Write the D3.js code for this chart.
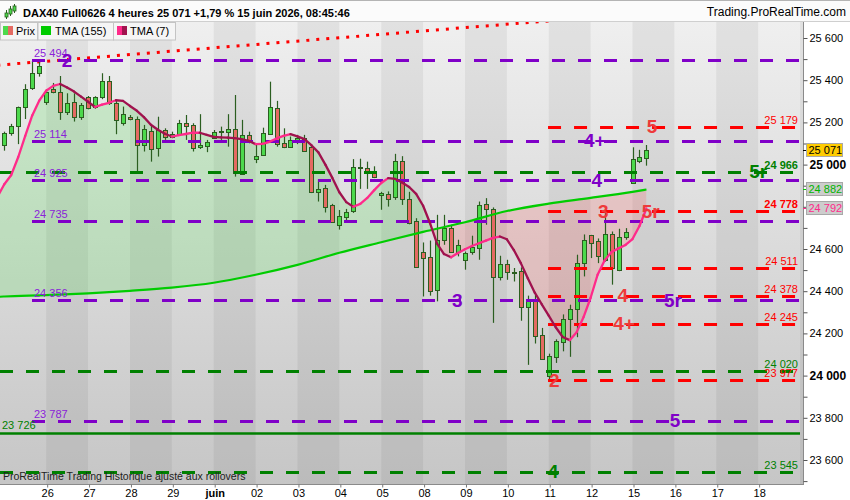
<!DOCTYPE html>
<html><head><meta charset="utf-8">
<script src="https://cdnjs.cloudflare.com/ajax/libs/d3/7.8.5/d3.min.js"></script>
<style>
html,body{margin:0;padding:0;background:#fff;}
svg{display:block;font-family:"Liberation Sans",Arial,sans-serif;}
</style></head><body>
<svg id="chart" width="850" height="500"></svg>
<script>
// ---------------- DATA ----------------
const titleText = "DAX40 Full0626 4 heures 25 071 +1,79 % 15 juin 2026, 08:45:46";
const siteText = "Trading.ProRealTime.com";
const footText = "ProRealTime Trading  Historique ajusté aux rollovers";
const legendLabels = ["Prix", "TMA (155)", "TMA (7)"];

const dayLabels = ["26","27","28","29","juin","02","03","04","05","08","09","10","11","12","15","16","17","18"];
const candlesPerDay = 6;

const opens  = [25093,25149,25185,25272,25362,25433, 25298,25357,25343,25251,25298,25224, 25319,25275,25319,25395,25291,25199,
                25224,25216,25093,25161,25080,25164, 25133,25144,25196,25188,25085,25090, 25125,25156,25156,25168,24955,25141,
                25026,25046,25144,25267,25101,25085, 25109,25128,25085,24869,24888,24809, 24715,24754,24778,24983,24983,24967,
                24855,24860,24846,25016,24836,24732, 24588,24562,24406,24642,24699,24588, 24548,24588,24605,24813,24789,24467,
                24529,24491,24495,24325,24360,24194, 24000,24089,24160,24268,24316,24533, 24666,24638,24549,24671,24502,24656,
                24915,25019,25033];
const highs  = [25156,25193,25275,25381,25492,25488, 25357,25387,25420,25338,25338,25292, 25325,25324,25433,25420,25306,25275,
                25235,25228,25188,25188,25227,25172, 25156,25212,25235,25196,25239,25117, 25164,25180,25239,25330,25212,25156,
                25093,25175,25393,25302,25172,25133, 25141,25141,25093,24930,24904,24814, 24785,24790,25026,25028,25014,24992,
                24871,24873,25051,25040,24871,24746, 24631,24640,24762,24762,24715,24644, 24588,24663,24825,24841,24797,24568,
                24549,24510,24513,24379,24383,24226, 24104,24172,24290,24336,24573,24669, 24667,24650,24781,24683,24696,24699,
                25082,25070,25093];
const lows   = [25066,25137,25097,25216,25354,25417, 25283,25338,25212,25235,25204,25212, 25262,25265,25310,25283,25144,25185,
                25210,24959,25062,25014,25038,25117, 25125,25141,25117,25062,25074,25059, 25122,25117,25085,24943,24951,25101,
                25007,25043,25141,25085,25078,25080, 25097,25062,24865,24825,24773,24726, 24692,24724,24771,24885,24885,24936,
                24786,24801,24833,24809,24717,24510, 24375,24379,24352,24620,24581,24565, 24502,24573,24549,24715,24250,24451,
                24454,24446,24260,24051,24152,24076, 23983,24060,24115,24089,24182,24470, 24557,24533,24540,24431,24495,24644,
                24912,25007,24995];
const closes = [25149,25185,25272,25357,25433,25467, 25346,25343,25251,25293,25227,25283, 25267,25319,25395,25291,25212,25240,
                25216,25093,25168,25074,25164,25133, 25144,25196,25185,25080,25093,25106, 25156,25160,25168,24959,25141,25117,
                25041,25149,25272,25097,25085,25117, 25125,25065,24872,24884,24801,24730, 24755,24775,24988,24988,24967,24940,
                24865,24836,25016,24836,24723,24514, 24557,24399,24644,24700,24585,24618, 24581,24611,24809,24789,24467,24529,
                24492,24489,24325,24356,24189,24081, 24093,24166,24268,24316,24533,24644, 24628,24567,24671,24511,24656,24680,
                25026,25035,25071];

// TMA (7), one value per candle, first value belongs to the candle before index 0
const tma7StartIndex = -1;
const tma7 = [24847,24907,24951,25036,25136,25233,25303,25350,25373,25382,25365,25346,25322,25298,25273,25284,25293,25305,
              25302,25278,25255,25225,25189,25165,25146,25133,25140,25145,25151,25151,25141,25131,25129,25128,25125,25121,
              25113,25097,25098,25108,25124,25136,25144,25134,25121,25092,25058,25000,24937,24869,24822,24800,24814,24842,
              24879,24913,24936,24932,24915,24894,24861,24805,24722,24625,24576,24561,24581,24599,24614,24627,24640,24653,
              24659,24646,24595,24533,24461,24393,24338,24284,24229,24183,24168,24206,24278,24369,24478,24546,24586,24603,
              24619,24647,24709,24792];
// TMA (155) read at candle indices
const tma155Index  = [-1,0,6,12,18,24,30,36,42,48,54,60,66,72,78,84,90,92];
const tma155Values = [24373,24375,24381,24390,24402,24417,24440,24478,24525,24582,24632,24681,24727,24780,24815,24842,24871,24882];

// horizontal levels
const purpleLevels = [25494,25114,24925,24735,24356,23787];
const redLevels    = [25179,24778,24511,24378,24245,23977];
const greenLevels  = [24966,24020,23545];
const supportLevel = 23726;
const boldLevels   = [24966,24778];

// big level annotations
const annoTexts  = ["2","4+","5","4","5r","3","5r","3","4","5r","4+","2","5","4"];
const annoLevels = [25494,25114,25179,24925,24966,24778,24778,24356,24378,24356,24245,23977,23787,23545];
const annoIndex  = [9.0,84.6,92.8,84.9,108.0,85.8,92.6,64.9,88.6,95.8,88.8,78.8,96.1,78.6];

// dotted red trend line (candle index, price)
const trendIndex = [-1, 90];
const trendPrice = [25471, 25713];

// ---------------- CHART ----------------
const P = {left:0, right:803, top:22, bottom:484};
const PURPLE = "#8000c8", RED = "#ff0000", GREEN = "#008000";
const svg = d3.select("#chart");
const defs = svg.append("defs");

const x = d3.scaleLinear().domain([0, 114]).range([4.3, 4.3 + 6.98*114]);
const y = d3.scaleLinear().domain([23600, 25600]).range([460, 38]);
const fmt = d3.formatLocale({decimal:",", thousands:" ", grouping:[3], currency:["",""]}).format(",d");

const g = defs.append("linearGradient").attr("id","bg").attr("x1",0).attr("y1",0).attr("x2",0).attr("y2",1);
g.append("stop").attr("offset","0%").attr("stop-color","#efefef");
g.append("stop").attr("offset","100%").attr("stop-color","#c6c6c6");
defs.append("clipPath").attr("id","plotClip").append("rect")
  .attr("x",P.left).attr("y",P.top).attr("width",P.right-P.left).attr("height",P.bottom-P.top);

svg.append("rect").attr("width",850).attr("height",500).attr("fill","#ffffff");

// plot background
const plot = svg.append("g").attr("clip-path","url(#plotClip)");
plot.append("rect").attr("x",P.left).attr("y",P.top).attr("width",P.right-P.left).attr("height",P.bottom-P.top).attr("fill","url(#bg)");
const nDays = dayLabels.length + 2;
for (let k = 0; k < nDays; k++) {
  if (k % 2 === 1) {
    const x0 = x(k*candlesPerDay), x1 = x((k+1)*candlesPerDay);
    plot.append("rect").attr("x",x0).attr("y",P.top).attr("width",x1-x0).attr("height",P.bottom-P.top)
      .attr("fill","#000").attr("opacity",0.055);
  }
}

// TMA data
const t7 = tma7.map((v,k)=>({i:k+tma7StartIndex, v}));
const t155 = tma155Index.map((d,k)=>({i:d, v:tma155Values[k]}));
const above155 = d3.area().x(d=>x(d.i)).y0(P.top-10).y1(d=>y(d.v)).curve(d3.curveMonotoneX);
const below155 = d3.area().x(d=>x(d.i)).y0(P.bottom+10).y1(d=>y(d.v)).curve(d3.curveMonotoneX);
defs.append("clipPath").attr("id","c155a").append("path").attr("d", above155(t155));
defs.append("clipPath").attr("id","c155b").append("path").attr("d", below155(t155));

plot.append("path").attr("clip-path","url(#c155a)")
  .attr("d", d3.area().x(d=>x(d.i)).y0(P.bottom+10).y1(d=>y(d.v))(t7))
  .attr("fill","rgb(70,225,70)").attr("fill-opacity",0.2);
plot.append("path").attr("clip-path","url(#c155b)")
  .attr("d", d3.area().x(d=>x(d.i)).y0(P.top-10).y1(d=>y(d.v))(t7))
  .attr("fill","rgb(255,70,70)").attr("fill-opacity",0.18);

// red dotted trend line
plot.append("line")
  .attr("x1",x(trendIndex[0])).attr("y1",y(trendPrice[0]))
  .attr("x2",x(trendIndex[1])).attr("y2",y(trendPrice[1]))
  .attr("stroke",RED).attr("stroke-width",3).attr("stroke-dasharray","3,7");

// candles
const candles = closes.map((c,i)=>({i, o:opens[i], h:highs[i], l:lows[i], c}));
const cg = plot.append("g");
const EDGE = "#2b5e20";
candles.forEach(d=>{
  const cx = Math.round(x(d.i));
  cg.append("line").attr("x1",cx+0.5).attr("x2",cx+0.5).attr("y1",y(d.h)).attr("y2",y(d.l))
    .attr("stroke",EDGE).attr("stroke-width",1.2);
  const top = Math.round(y(Math.max(d.o,d.c))), bot = Math.round(y(Math.min(d.o,d.c)));
  cg.append("rect").attr("x",cx-1.5).attr("y",top+0.5).attr("width",4).attr("height",Math.max(1,bot-top))
    .attr("fill", d.c >= d.o ? "#4cd94c" : "#e46a62").attr("stroke",EDGE).attr("stroke-width",1);
});

// level lines
const lg = plot.append("g");
function levelLine(v, x0, color, dashed, w){
  const yy = Math.round(y(v)) + 0.5;
  lg.append("line").attr("x1",x0).attr("x2",P.right-3).attr("y1",yy).attr("y2",yy)
    .attr("stroke",color).attr("stroke-width",w).attr("stroke-dasharray",dashed ? "13,13" : null);
}
purpleLevels.forEach(v=>levelLine(v, 32, PURPLE, true, 3));
redLevels.forEach(v=>levelLine(v, x(77.9), RED, true, 3));
greenLevels.forEach(v=>levelLine(v, 0, GREEN, true, 3));
levelLine(supportLevel, 0, GREEN, false, 2.5);

// TMA 155 line
plot.append("path").attr("d", d3.line().x(d=>x(d.i)).y(d=>y(d.v)).curve(d3.curveMonotoneX)(t155))
  .attr("fill","none").attr("stroke","#00cc00").attr("stroke-width",2.2);
// TMA 7 line, colour by direction
for (let k = 0; k < t7.length-1; k++) {
  const a = t7[k], b = t7[k+1];
  plot.append("line").attr("x1",x(a.i)).attr("y1",y(a.v)).attr("x2",x(b.i)).attr("y2",y(b.v))
    .attr("stroke", b.v >= a.v ? "#ff2a8a" : "#a0124e").attr("stroke-width",2.3).attr("stroke-linecap","round");
}

// level labels
const tg = svg.append("g").style("font-size","11px");
purpleLevels.forEach(v=>{
  tg.append("text").attr("x",34).attr("y",Math.round(y(v))-3).attr("fill","#8a22d8").text(fmt(v));
});
const rightLabels = redLevels.map(v=>({v,c:RED})).concat(greenLevels.map(v=>({v,c:GREEN})));
rightLabels.forEach(d=>{
  tg.append("text").attr("x",798).attr("y",Math.round(y(d.v))-3).attr("text-anchor","end")
    .attr("fill",d.c).attr("font-weight", boldLevels.includes(d.v) ? "bold" : null).text(fmt(d.v));
});
tg.append("text").attr("x",2).attr("y",Math.round(y(supportLevel))-4).attr("fill",GREEN).text(fmt(supportLevel));

// big annotations
function levelColor(v){
  if (purpleLevels.includes(v)) return PURPLE;
  if (redLevels.includes(v)) return "#ee3a3a";
  return GREEN;
}
annoTexts.forEach((t,k)=>{
  svg.append("text").attr("x",x(annoIndex[k])).attr("y",y(annoLevels[k]))
    .attr("text-anchor","middle").attr("dominant-baseline","central")
    .attr("font-size","19px").attr("font-weight","bold").attr("fill",levelColor(annoLevels[k])).text(t);
});

// footer text in plot
svg.append("text").attr("x",3).attr("y",480).attr("font-size","10.5px").attr("fill","#222").text(footText);

// axes
svg.append("line").attr("x1",P.right+0.5).attr("x2",P.right+0.5).attr("y1",P.top).attr("y2",P.bottom+1).attr("stroke","#8a8a8a");
svg.append("line").attr("x1",0).attr("x2",P.right).attr("y1",P.bottom+0.5).attr("y2",P.bottom+0.5).attr("stroke","#8a8a8a");

const yTicks = d3.range(23500, 25700, 100);
const yAxis = d3.axisRight(y).tickValues(yTicks).tickSize(4).tickPadding(2)
  .tickFormat(d => d % 200 === 0 ? fmt(d) : "");
const ya = svg.append("g").attr("transform",`translate(${P.right+0.5},0)`).call(yAxis);
ya.select(".domain").remove();
ya.selectAll(".tick line").attr("stroke","#555");
ya.selectAll(".tick text").attr("fill","#000").style("font-size","11px")
  .style("font-family","Liberation Sans, Arial, sans-serif")
  .attr("font-weight", d => d % 1000 === 0 ? "bold" : null)
  .style("font-size", d => d % 1000 === 0 ? "12px" : "11px");
ya.selectAll(".tick").filter(d => d < 23500 || d > 25650).remove();

const dayIdx = dayLabels.map((d,k)=>(k+1)*candlesPerDay);
const xAxis = d3.axisBottom(x).tickValues(dayIdx).tickSize(3).tickPadding(2).tickFormat((d,k)=>dayLabels[k]);
const xa = svg.append("g").attr("transform",`translate(1,${P.bottom+0.5})`).call(xAxis);
xa.select(".domain").remove();
xa.selectAll(".tick line").attr("stroke","#777");
xa.selectAll(".tick text").attr("fill","#000").style("font-size","11px")
  .style("font-family","Liberation Sans, Arial, sans-serif")
  .attr("font-weight",(d,k)=> dayLabels[k]==="juin" ? "bold" : null);

// price boxes on the axis
const boxes = [
  {v: closes[closes.length-1], fill:"#ffcc00", text:"#000", tick:"#000"},
  {v: tma155Values[tma155Values.length-1], fill:"#cdcdcd", text:"#00b400", tick:"#00cc00"},
  {v: tma7[tma7.length-1], fill:"#cdcdcd", text:"#ff2a8a", tick:"#ff2a8a"}
];
boxes.forEach(b=>{
  const yy = Math.round(y(b.v));
  svg.append("line").attr("x1",P.right).attr("x2",P.right+4).attr("y1",yy+0.5).attr("y2",yy+0.5).attr("stroke",b.tick);
  svg.append("rect").attr("x",806.5).attr("y",yy-6.5).attr("width",36).attr("height",13)
    .attr("fill",b.fill).attr("stroke","#a8a8a8");
  svg.append("text").attr("x",808.5).attr("y",yy+4).attr("font-size","11px").attr("fill",b.text).text(fmt(b.v));
});

// header
svg.append("rect").attr("x",0).attr("y",0).attr("width",850).attr("height",21).attr("fill","#fbfbfb");
svg.append("line").attr("x1",0).attr("x2",850).attr("y1",0.5).attr("y2",0.5).attr("stroke","#b4b4b4");
svg.append("line").attr("x1",0).attr("x2",850).attr("y1",21.5).attr("y2",21.5).attr("stroke","#cfcfcf");
const icon = svg.append("g");
[[6,13,17,10,19],[10,9,14,6,16],[14,6,11,4,13]].forEach(c=>{
  icon.append("line").attr("x1",c[0]+0.5).attr("x2",c[0]+0.5).attr("y1",c[3]).attr("y2",c[4]).attr("stroke","#2b5e20");
  icon.append("rect").attr("x",c[0]-1).attr("y",c[1]).attr("width",3).attr("height",c[2]-c[1])
    .attr("fill","#4cd94c").attr("stroke","#2b5e20").attr("stroke-width",0.8);
});
svg.append("text").attr("x",23).attr("y",17).attr("font-size","11px").attr("font-weight","bold").attr("fill","#000").text(titleText);
svg.append("text").attr("x",846).attr("y",16).attr("text-anchor","end").attr("font-size","12px").attr("fill","#000").text(siteText);

// legend
const leg = svg.append("g");
const legBoxes = [[0,37],[37.5,75.5],[113,62]];
legBoxes.forEach((b,k)=>{
  leg.append("rect").attr("x",b[0]+0.5).attr("y",22.5).attr("width",b[1]).attr("height",17.5)
    .attr("fill","#f5f5f5").attr("stroke","#c4c4c4");
});
leg.append("rect").attr("x",3).attr("y",26).attr("width",5).attr("height",9).attr("fill","#4cd94c");
leg.append("rect").attr("x",8).attr("y",26).attr("width",5).attr("height",9).attr("fill","#e46a62");
leg.append("rect").attr("x",41).attr("y",26).attr("width",10).attr("height",9).attr("fill","#00cc00");
leg.append("rect").attr("x",117).attr("y",26).attr("width",5).attr("height",9).attr("fill","#ff2a8a");
leg.append("rect").attr("x",122).attr("y",26).attr("width",5).attr("height",9).attr("fill","#a0124e");
[[16,0],[55,1],[130,2]].forEach(p=>{
  leg.append("text").attr("x",p[0]).attr("y",35).attr("font-size","11px").attr("fill","#000").text(legendLabels[p[1]]);
});
</script>
</body></html>
